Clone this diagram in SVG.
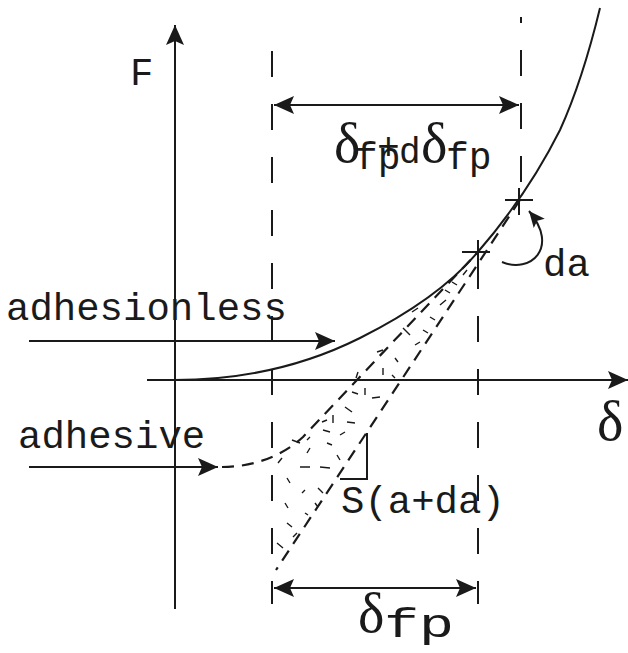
<svg xmlns="http://www.w3.org/2000/svg" width="628" height="653" viewBox="0 0 628 653">
<style>
.ln{stroke:#1a1a1a;stroke-width:2;fill:none}
.dv{stroke:#1a1a1a;stroke-width:2;fill:none;stroke-dasharray:26 27}
.dd{stroke:#1a1a1a;stroke-width:2.2;fill:none;stroke-dasharray:12 8}
.hh{stroke:#1a1a1a;stroke-width:1.4;fill:none}
.mono{font-family:"Liberation Mono","Courier New",monospace;fill:#1a1a1a}
.ser{font-family:"Liberation Serif","Times New Roman",serif;fill:#1a1a1a}
</style>
<defs>
<marker id="ah" viewBox="0 0 20 20" refX="20" refY="10" markerWidth="20" markerHeight="20" orient="auto-start-reverse" markerUnits="userSpaceOnUse">
<path d="M0,1 L20,10 L0,19 L4,10 Z" fill="#1a1a1a"/>
</marker>
<marker id="ahs" viewBox="0 0 20 20" refX="20" refY="10" markerWidth="16" markerHeight="16" orient="auto" markerUnits="userSpaceOnUse">
<path d="M0,1 L20,10 L0,19 L4,10 Z" fill="#1a1a1a"/>
</marker>
</defs>

<g id="connectors">
<line class="ln" x1="175" y1="609" x2="175" y2="25" marker-end="url(#ah)"/>
<line class="ln" x1="147" y1="380" x2="628" y2="380" marker-end="url(#ah)"/>
<line class="dv" x1="272" y1="51" x2="272" y2="604"/>
<line class="dv" x1="521" y1="17" x2="521" y2="188" stroke-dashoffset="20"/>
<line class="dv" x1="478" y1="263" x2="478" y2="604"/>
<line class="ln" x1="274" y1="105" x2="519" y2="105" marker-start="url(#ah)" marker-end="url(#ah)"/>
<line class="ln" x1="274" y1="588" x2="476" y2="588" marker-start="url(#ah)" marker-end="url(#ah)"/>
<line class="ln" x1="29" y1="341" x2="335" y2="341" marker-end="url(#ah)"/>
<line class="ln" x1="29" y1="467" x2="218" y2="467" marker-end="url(#ah)"/>
<path class="ln" d="M502,262 C530,274 560,248 529,211" marker-end="url(#ahs)"/>
<path class="ln" d="M340,479 L367,479 L367,433"/>
</g>

<g id="curve-adhesionless">
<path class="ln" d="M175,380 C240,380 300,368 360,338 C410,313 450,285 477,253 C510,215 540,170 560,130 C570,108 585,70 600,8"/>
</g>

<g id="curve-adhesive">
<path class="dd" d="M222,467 C250,467 280,458 303,437 L478,252"/>
<path class="dd" d="M520,200 L276,570"/>
</g>

<g id="markers">
<path class="ln" d="M462,252 H490 M478,240 V265"/>
<path class="ln" d="M505,200 H533 M519,188 V215"/>
</g>

<g id="hatch">
<path class="hh" d="M452,282 L457,285 M430,317 L435,320 M403,328 L410,335 M423,330 L428,333 M377,352 L383,350 M383,368 L383,375 M392,375 L395,378 M365,388 L365,395 M372,398 L380,397 M345,407 L352,412 M333,415 L333,423 M347,422 L355,423 M322,422 L327,420 M323,430 L330,432 M292,440 L300,443 M307,440 L310,437 M310,448 L307,453 M327,443 L332,445 M337,455 L340,460 M300,467 L310,467 M320,467 L330,468 M287,478 L290,483 M302,493 L305,490 M318,488 L323,493 M315,503 L318,507 M285,503 L288,508 M287,523 L292,527 M305,513 L308,515 M277,543 L283,548 M293,537 L297,533 M278,463 L282,458 M440,305 L446,300 M415,345 L420,342 M358,372 L356,378 M395,358 L398,362 M463,275 L467,270 M445,290 L450,293 M412,312 L418,308 M352,392 L358,394 M340,435 L345,432"/>
</g>

<g id="labels">
<text class="mono" x="130" y="85" font-size="39">F</text>
<text class="mono" x="6" y="320" font-size="39">adhesionless</text>
<text class="mono" x="18" y="448" font-size="39">adhesive</text>
<text class="mono" x="543" y="276" font-size="39">da</text>
<text class="mono" x="341" y="513" font-size="39">S(a+da)</text>
<text class="ser" x="597" y="440" font-size="56">δ</text>
<text class="mono" y="162"><tspan class="ser" x="334" y="162" font-size="56">δ</tspan><tspan x="355" y="169" font-size="38">fp</tspan><tspan x="377" y="159" font-size="38">+</tspan><tspan x="399" y="163" font-size="36">d</tspan><tspan class="ser" x="421" y="162" font-size="56">δ</tspan><tspan x="446" y="169" font-size="38">fp</tspan></text>
<text class="mono" y="632"><tspan class="ser" x="358" y="632" font-size="56">δ</tspan><tspan x="384" y="637" font-size="40" textLength="70" lengthAdjust="spacingAndGlyphs">fp</tspan></text>
</g>
</svg>
